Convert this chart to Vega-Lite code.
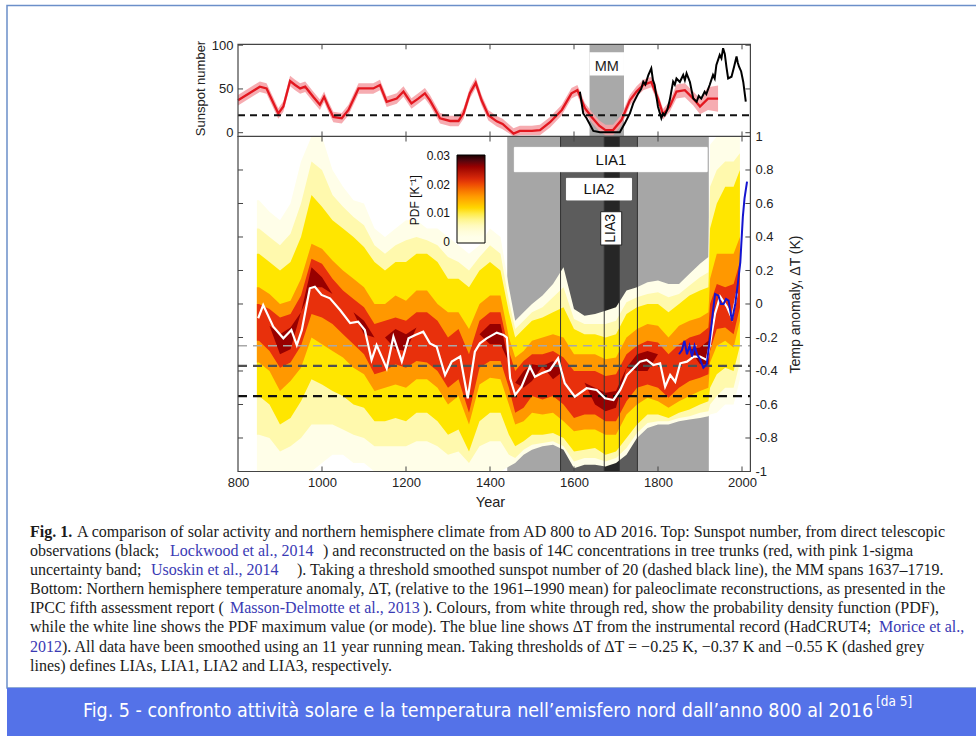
{
"$schema": "https://vega.github.io/schema/vega-lite/v6.json",
"width": 976, "height": 736,
"autosize": {"type": "none"},
"padding": 0,
"background": "#ffffff",
"config": {"view": {"stroke": null}, "axis": {"grid": false}},
"datasets": {
"pdf": [
{"yr":845,"lv":0.003,"v":-1,"v2":0.62},{"yr":845,"lv":0.007,"v":-0.78,"v2":0.45},{"yr":845,"lv":0.011,"v":-0.55,"v2":0.3},{"yr":845,"lv":0.016,"v":-0.35,"v2":0.1},{"yr":845,"lv":0.021,"v":-0.22,"v2":0},{"yr":845,"lv":0.026,"v":-0.1,"v2":-0.1},
{"yr":850,"lv":0.003,"v":-1,"v2":0.62},{"yr":850,"lv":0.007,"v":-0.78,"v2":0.45},{"yr":850,"lv":0.011,"v":-0.55,"v2":0.3},{"yr":850,"lv":0.016,"v":-0.35,"v2":0.1},{"yr":850,"lv":0.021,"v":-0.22,"v2":0},{"yr":850,"lv":0.026,"v":-0.1,"v2":-0.1},
{"yr":875,"lv":0.003,"v":-1,"v2":0.55},{"yr":875,"lv":0.007,"v":-0.8,"v2":0.4},{"yr":875,"lv":0.011,"v":-0.6,"v2":0.25},{"yr":875,"lv":0.016,"v":-0.4,"v2":0.06},{"yr":875,"lv":0.021,"v":-0.28,"v2":-0.03},{"yr":875,"lv":0.026,"v":-0.13,"v2":-0.13},
{"yr":900,"lv":0.003,"v":-1,"v2":0.5},{"yr":900,"lv":0.007,"v":-0.88,"v2":0.35},{"yr":900,"lv":0.011,"v":-0.72,"v2":0.2},{"yr":900,"lv":0.016,"v":-0.52,"v2":0},{"yr":900,"lv":0.021,"v":-0.38,"v2":-0.08},{"yr":900,"lv":0.026,"v":-0.3,"v2":-0.18},
{"yr":925,"lv":0.003,"v":-1,"v2":0.6},{"yr":925,"lv":0.007,"v":-0.85,"v2":0.42},{"yr":925,"lv":0.011,"v":-0.68,"v2":0.25},{"yr":925,"lv":0.016,"v":-0.46,"v2":0.02},{"yr":925,"lv":0.021,"v":-0.35,"v2":-0.06},{"yr":925,"lv":0.026,"v":-0.27,"v2":-0.14},
{"yr":950,"lv":0.003,"v":-1,"v2":0.85},{"yr":950,"lv":0.007,"v":-0.8,"v2":0.6},{"yr":950,"lv":0.011,"v":-0.58,"v2":0.4},{"yr":950,"lv":0.016,"v":-0.38,"v2":0.15},{"yr":950,"lv":0.021,"v":-0.25,"v2":0.05},{"yr":950,"lv":0.026,"v":-0.05,"v2":-0.05},
{"yr":975,"lv":0.003,"v":-1,"v2":1},{"yr":975,"lv":0.007,"v":-0.72,"v2":0.85},{"yr":975,"lv":0.011,"v":-0.45,"v2":0.65},{"yr":975,"lv":0.016,"v":-0.2,"v2":0.36},{"yr":975,"lv":0.021,"v":-0.06,"v2":0.27},{"yr":975,"lv":0.026,"v":0.1,"v2":0.22},
{"yr":1000,"lv":0.003,"v":-0.95,"v2":1},{"yr":1000,"lv":0.007,"v":-0.72,"v2":0.8},{"yr":1000,"lv":0.011,"v":-0.48,"v2":0.58},{"yr":1000,"lv":0.016,"v":-0.24,"v2":0.33},{"yr":1000,"lv":0.021,"v":-0.08,"v2":0.24},{"yr":1000,"lv":0.026,"v":0.1,"v2":0.16},
{"yr":1025,"lv":0.003,"v":-0.9,"v2":0.8},{"yr":1025,"lv":0.007,"v":-0.72,"v2":0.65},{"yr":1025,"lv":0.011,"v":-0.52,"v2":0.5},{"yr":1025,"lv":0.016,"v":-0.28,"v2":0.26},{"yr":1025,"lv":0.021,"v":-0.12,"v2":0.15},{"yr":1025,"lv":0.026,"v":0.06,"v2":0.06},
{"yr":1050,"lv":0.003,"v":-0.9,"v2":0.7},{"yr":1050,"lv":0.007,"v":-0.75,"v2":0.58},{"yr":1050,"lv":0.011,"v":-0.55,"v2":0.45},{"yr":1050,"lv":0.016,"v":-0.32,"v2":0.2},{"yr":1050,"lv":0.021,"v":-0.18,"v2":0.08},{"yr":1050,"lv":0.026,"v":0,"v2":0},
{"yr":1075,"lv":0.003,"v":-0.95,"v2":0.62},{"yr":1075,"lv":0.007,"v":-0.78,"v2":0.52},{"yr":1075,"lv":0.011,"v":-0.6,"v2":0.4},{"yr":1075,"lv":0.016,"v":-0.38,"v2":0.15},{"yr":1075,"lv":0.021,"v":-0.24,"v2":0.03},{"yr":1075,"lv":0.026,"v":-0.05,"v2":-0.05},
{"yr":1100,"lv":0.003,"v":-0.95,"v2":0.6},{"yr":1100,"lv":0.007,"v":-0.8,"v2":0.47},{"yr":1100,"lv":0.011,"v":-0.62,"v2":0.34},{"yr":1100,"lv":0.016,"v":-0.42,"v2":0.1},{"yr":1100,"lv":0.021,"v":-0.3,"v2":-0.02},{"yr":1100,"lv":0.026,"v":-0.18,"v2":-0.1},
{"yr":1125,"lv":0.003,"v":-1,"v2":0.45},{"yr":1125,"lv":0.007,"v":-0.85,"v2":0.35},{"yr":1125,"lv":0.011,"v":-0.7,"v2":0.25},{"yr":1125,"lv":0.016,"v":-0.52,"v2":0},{"yr":1125,"lv":0.021,"v":-0.42,"v2":-0.12},{"yr":1125,"lv":0.026,"v":-0.2,"v2":-0.2},
{"yr":1150,"lv":0.003,"v":-1,"v2":0.4},{"yr":1150,"lv":0.007,"v":-0.85,"v2":0.3},{"yr":1150,"lv":0.011,"v":-0.7,"v2":0.2},{"yr":1150,"lv":0.016,"v":-0.5,"v2":0},{"yr":1150,"lv":0.021,"v":-0.4,"v2":-0.1},{"yr":1150,"lv":0.026,"v":-0.2,"v2":-0.2},
{"yr":1175,"lv":0.003,"v":-1,"v2":0.45},{"yr":1175,"lv":0.007,"v":-0.85,"v2":0.35},{"yr":1175,"lv":0.011,"v":-0.68,"v2":0.25},{"yr":1175,"lv":0.016,"v":-0.48,"v2":0.05},{"yr":1175,"lv":0.021,"v":-0.36,"v2":-0.08},{"yr":1175,"lv":0.026,"v":-0.27,"v2":-0.15},
{"yr":1200,"lv":0.003,"v":-1,"v2":0.5},{"yr":1200,"lv":0.007,"v":-0.85,"v2":0.38},{"yr":1200,"lv":0.011,"v":-0.7,"v2":0.25},{"yr":1200,"lv":0.016,"v":-0.5,"v2":0.02},{"yr":1200,"lv":0.021,"v":-0.38,"v2":-0.1},{"yr":1200,"lv":0.026,"v":-0.28,"v2":-0.18},
{"yr":1225,"lv":0.003,"v":-1,"v2":0.5},{"yr":1225,"lv":0.007,"v":-0.82,"v2":0.4},{"yr":1225,"lv":0.011,"v":-0.65,"v2":0.3},{"yr":1225,"lv":0.016,"v":-0.45,"v2":0.08},{"yr":1225,"lv":0.021,"v":-0.34,"v2":-0.05},{"yr":1225,"lv":0.026,"v":-0.14,"v2":-0.14},
{"yr":1250,"lv":0.003,"v":-1,"v2":0.45},{"yr":1250,"lv":0.007,"v":-0.82,"v2":0.38},{"yr":1250,"lv":0.011,"v":-0.65,"v2":0.3},{"yr":1250,"lv":0.016,"v":-0.45,"v2":0.08},{"yr":1250,"lv":0.021,"v":-0.35,"v2":-0.05},{"yr":1250,"lv":0.026,"v":-0.15,"v2":-0.15},
{"yr":1275,"lv":0.003,"v":-1,"v2":0.45},{"yr":1275,"lv":0.007,"v":-0.85,"v2":0.35},{"yr":1275,"lv":0.011,"v":-0.7,"v2":0.25},{"yr":1275,"lv":0.016,"v":-0.5,"v2":0},{"yr":1275,"lv":0.021,"v":-0.4,"v2":-0.1},{"yr":1275,"lv":0.026,"v":-0.2,"v2":-0.2},
{"yr":1300,"lv":0.003,"v":-1,"v2":0.4},{"yr":1300,"lv":0.007,"v":-0.9,"v2":0.28},{"yr":1300,"lv":0.011,"v":-0.78,"v2":0.15},{"yr":1300,"lv":0.016,"v":-0.6,"v2":-0.05},{"yr":1300,"lv":0.021,"v":-0.5,"v2":-0.2},{"yr":1300,"lv":0.026,"v":-0.3,"v2":-0.3},
{"yr":1325,"lv":0.003,"v":-1,"v2":0.35},{"yr":1325,"lv":0.007,"v":-0.88,"v2":0.25},{"yr":1325,"lv":0.011,"v":-0.75,"v2":0.15},{"yr":1325,"lv":0.016,"v":-0.55,"v2":-0.05},{"yr":1325,"lv":0.021,"v":-0.45,"v2":-0.15},{"yr":1325,"lv":0.026,"v":-0.25,"v2":-0.25},
{"yr":1350,"lv":0.003,"v":-1,"v2":0.3},{"yr":1350,"lv":0.007,"v":-0.95,"v2":0.2},{"yr":1350,"lv":0.011,"v":-0.88,"v2":0.1},{"yr":1350,"lv":0.016,"v":-0.72,"v2":-0.15},{"yr":1350,"lv":0.021,"v":-0.65,"v2":-0.3},{"yr":1350,"lv":0.026,"v":-0.45,"v2":-0.45},
{"yr":1375,"lv":0.003,"v":-1,"v2":0.35},{"yr":1375,"lv":0.007,"v":-0.85,"v2":0.28},{"yr":1375,"lv":0.011,"v":-0.7,"v2":0.2},{"yr":1375,"lv":0.016,"v":-0.48,"v2":0},{"yr":1375,"lv":0.021,"v":-0.38,"v2":-0.1},{"yr":1375,"lv":0.026,"v":-0.18,"v2":-0.18},
{"yr":1400,"lv":0.003,"v":-1,"v2":0.45},{"yr":1400,"lv":0.007,"v":-0.82,"v2":0.35},{"yr":1400,"lv":0.011,"v":-0.65,"v2":0.25},{"yr":1400,"lv":0.016,"v":-0.44,"v2":0.05},{"yr":1400,"lv":0.021,"v":-0.34,"v2":-0.05},{"yr":1400,"lv":0.026,"v":-0.24,"v2":-0.12},
{"yr":1425,"lv":0.003,"v":-1,"v2":0.4},{"yr":1425,"lv":0.007,"v":-0.82,"v2":0.3},{"yr":1425,"lv":0.011,"v":-0.65,"v2":0.2},{"yr":1425,"lv":0.016,"v":-0.45,"v2":0.05},{"yr":1425,"lv":0.021,"v":-0.34,"v2":-0.05},{"yr":1425,"lv":0.026,"v":-0.24,"v2":-0.12},
{"yr":1445,"lv":0.003,"v":-0.97,"v2":0.1},{"yr":1445,"lv":0.007,"v":-0.9,"v2":0.02},{"yr":1445,"lv":0.011,"v":-0.78,"v2":-0.05},{"yr":1445,"lv":0.016,"v":-0.6,"v2":-0.2},{"yr":1445,"lv":0.021,"v":-0.5,"v2":-0.28},{"yr":1445,"lv":0.026,"v":-0.35,"v2":-0.35},
{"yr":1460,"lv":0.003,"v":-0.95,"v2":-0.1},{"yr":1460,"lv":0.007,"v":-0.92,"v2":-0.15},{"yr":1460,"lv":0.011,"v":-0.85,"v2":-0.2},{"yr":1460,"lv":0.016,"v":-0.72,"v2":-0.32},{"yr":1460,"lv":0.021,"v":-0.65,"v2":-0.4},{"yr":1460,"lv":0.026,"v":-0.47,"v2":-0.47},
{"yr":1480,"lv":0.003,"v":-0.9,"v2":-0.05},{"yr":1480,"lv":0.007,"v":-0.87,"v2":-0.1},{"yr":1480,"lv":0.011,"v":-0.82,"v2":-0.15},{"yr":1480,"lv":0.016,"v":-0.7,"v2":-0.28},{"yr":1480,"lv":0.021,"v":-0.62,"v2":-0.34},{"yr":1480,"lv":0.026,"v":-0.5,"v2":-0.4},
{"yr":1500,"lv":0.003,"v":-0.87,"v2":0},{"yr":1500,"lv":0.007,"v":-0.84,"v2":-0.05},{"yr":1500,"lv":0.011,"v":-0.78,"v2":-0.1},{"yr":1500,"lv":0.016,"v":-0.65,"v2":-0.22},{"yr":1500,"lv":0.021,"v":-0.55,"v2":-0.3},{"yr":1500,"lv":0.026,"v":-0.46,"v2":-0.36},
{"yr":1525,"lv":0.003,"v":-0.85,"v2":0.05},{"yr":1525,"lv":0.007,"v":-0.83,"v2":-0.02},{"yr":1525,"lv":0.011,"v":-0.78,"v2":-0.08},{"yr":1525,"lv":0.016,"v":-0.66,"v2":-0.2},{"yr":1525,"lv":0.021,"v":-0.57,"v2":-0.3},{"yr":1525,"lv":0.026,"v":-0.37,"v2":-0.37},
{"yr":1550,"lv":0.003,"v":-0.84,"v2":0.12},{"yr":1550,"lv":0.007,"v":-0.82,"v2":0.04},{"yr":1550,"lv":0.011,"v":-0.77,"v2":-0.05},{"yr":1550,"lv":0.016,"v":-0.65,"v2":-0.18},{"yr":1550,"lv":0.021,"v":-0.55,"v2":-0.28},{"yr":1550,"lv":0.026,"v":-0.45,"v2":-0.34},
{"yr":1575,"lv":0.003,"v":-0.87,"v2":0.22},{"yr":1575,"lv":0.007,"v":-0.85,"v2":0.1},{"yr":1575,"lv":0.011,"v":-0.8,"v2":-0.02},{"yr":1575,"lv":0.016,"v":-0.7,"v2":-0.2},{"yr":1575,"lv":0.021,"v":-0.6,"v2":-0.32},{"yr":1575,"lv":0.026,"v":-0.4,"v2":-0.4},
{"yr":1600,"lv":0.003,"v":-0.98,"v2":-0.03},{"yr":1600,"lv":0.007,"v":-0.94,"v2":-0.09},{"yr":1600,"lv":0.011,"v":-0.88,"v2":-0.15},{"yr":1600,"lv":0.016,"v":-0.76,"v2":-0.3},{"yr":1600,"lv":0.021,"v":-0.68,"v2":-0.4},{"yr":1600,"lv":0.026,"v":-0.48,"v2":-0.48},
{"yr":1625,"lv":0.003,"v":-0.96,"v2":-0.07},{"yr":1625,"lv":0.007,"v":-0.92,"v2":-0.12},{"yr":1625,"lv":0.011,"v":-0.87,"v2":-0.18},{"yr":1625,"lv":0.016,"v":-0.75,"v2":-0.3},{"yr":1625,"lv":0.021,"v":-0.66,"v2":-0.4},{"yr":1625,"lv":0.026,"v":-0.47,"v2":-0.47},
{"yr":1650,"lv":0.003,"v":-0.96,"v2":-0.06},{"yr":1650,"lv":0.007,"v":-0.92,"v2":-0.12},{"yr":1650,"lv":0.011,"v":-0.86,"v2":-0.18},{"yr":1650,"lv":0.016,"v":-0.75,"v2":-0.3},{"yr":1650,"lv":0.021,"v":-0.66,"v2":-0.4},{"yr":1650,"lv":0.026,"v":-0.6,"v2":-0.5},
{"yr":1675,"lv":0.003,"v":-0.97,"v2":-0.04},{"yr":1675,"lv":0.007,"v":-0.94,"v2":-0.12},{"yr":1675,"lv":0.011,"v":-0.9,"v2":-0.2},{"yr":1675,"lv":0.016,"v":-0.78,"v2":-0.33},{"yr":1675,"lv":0.021,"v":-0.7,"v2":-0.43},{"yr":1675,"lv":0.026,"v":-0.64,"v2":-0.53},
{"yr":1700,"lv":0.003,"v":-0.95,"v2":-0.02},{"yr":1700,"lv":0.007,"v":-0.92,"v2":-0.1},{"yr":1700,"lv":0.011,"v":-0.88,"v2":-0.18},{"yr":1700,"lv":0.016,"v":-0.78,"v2":-0.32},{"yr":1700,"lv":0.021,"v":-0.7,"v2":-0.42},{"yr":1700,"lv":0.026,"v":-0.62,"v2":-0.52},
{"yr":1725,"lv":0.003,"v":-0.9,"v2":0.08},{"yr":1725,"lv":0.007,"v":-0.86,"v2":0.01},{"yr":1725,"lv":0.011,"v":-0.8,"v2":-0.06},{"yr":1725,"lv":0.016,"v":-0.66,"v2":-0.2},{"yr":1725,"lv":0.021,"v":-0.58,"v2":-0.3},{"yr":1725,"lv":0.026,"v":-0.38,"v2":-0.38},
{"yr":1750,"lv":0.003,"v":-0.8,"v2":0.1},{"yr":1750,"lv":0.007,"v":-0.77,"v2":0.04},{"yr":1750,"lv":0.011,"v":-0.72,"v2":-0.02},{"yr":1750,"lv":0.016,"v":-0.6,"v2":-0.15},{"yr":1750,"lv":0.021,"v":-0.5,"v2":-0.25},{"yr":1750,"lv":0.026,"v":-0.4,"v2":-0.3},
{"yr":1775,"lv":0.003,"v":-0.74,"v2":0.13},{"yr":1775,"lv":0.007,"v":-0.71,"v2":0.06},{"yr":1775,"lv":0.011,"v":-0.66,"v2":0},{"yr":1775,"lv":0.016,"v":-0.56,"v2":-0.12},{"yr":1775,"lv":0.021,"v":-0.48,"v2":-0.22},{"yr":1775,"lv":0.026,"v":-0.4,"v2":-0.28},
{"yr":1800,"lv":0.003,"v":-0.72,"v2":0.14},{"yr":1800,"lv":0.007,"v":-0.7,"v2":0.07},{"yr":1800,"lv":0.011,"v":-0.66,"v2":0},{"yr":1800,"lv":0.016,"v":-0.58,"v2":-0.13},{"yr":1800,"lv":0.021,"v":-0.5,"v2":-0.23},{"yr":1800,"lv":0.026,"v":-0.3,"v2":-0.3},
{"yr":1825,"lv":0.003,"v":-0.72,"v2":0.12},{"yr":1825,"lv":0.007,"v":-0.7,"v2":0.04},{"yr":1825,"lv":0.011,"v":-0.68,"v2":-0.05},{"yr":1825,"lv":0.016,"v":-0.62,"v2":-0.2},{"yr":1825,"lv":0.021,"v":-0.56,"v2":-0.3},{"yr":1825,"lv":0.026,"v":-0.38,"v2":-0.38},
{"yr":1850,"lv":0.003,"v":-0.7,"v2":0.12},{"yr":1850,"lv":0.007,"v":-0.68,"v2":0.06},{"yr":1850,"lv":0.011,"v":-0.65,"v2":0},{"yr":1850,"lv":0.016,"v":-0.58,"v2":-0.13},{"yr":1850,"lv":0.021,"v":-0.5,"v2":-0.24},{"yr":1850,"lv":0.026,"v":-0.3,"v2":-0.3},
{"yr":1875,"lv":0.003,"v":-0.69,"v2":0.18},{"yr":1875,"lv":0.007,"v":-0.67,"v2":0.11},{"yr":1875,"lv":0.011,"v":-0.63,"v2":0.05},{"yr":1875,"lv":0.016,"v":-0.55,"v2":-0.1},{"yr":1875,"lv":0.021,"v":-0.46,"v2":-0.2},{"yr":1875,"lv":0.026,"v":-0.27,"v2":-0.27},
{"yr":1900,"lv":0.003,"v":-0.68,"v2":0.24},{"yr":1900,"lv":0.007,"v":-0.65,"v2":0.16},{"yr":1900,"lv":0.011,"v":-0.6,"v2":0.08},{"yr":1900,"lv":0.016,"v":-0.52,"v2":-0.08},{"yr":1900,"lv":0.021,"v":-0.44,"v2":-0.18},{"yr":1900,"lv":0.026,"v":-0.36,"v2":-0.26},
{"yr":1920,"lv":0.003,"v":-0.67,"v2":0.28},{"yr":1920,"lv":0.007,"v":-0.64,"v2":0.19},{"yr":1920,"lv":0.011,"v":-0.58,"v2":0.1},{"yr":1920,"lv":0.016,"v":-0.5,"v2":-0.05},{"yr":1920,"lv":0.021,"v":-0.42,"v2":-0.14},{"yr":1920,"lv":0.026,"v":-0.36,"v2":-0.22},
{"yr":1924,"lv":0.003,"v":-0.66,"v2":0.95},{"yr":1924,"lv":0.007,"v":-0.6,"v2":0.7},{"yr":1924,"lv":0.011,"v":-0.5,"v2":0.45},{"yr":1924,"lv":0.016,"v":-0.35,"v2":0.15},{"yr":1924,"lv":0.021,"v":-0.28,"v2":0},{"yr":1924,"lv":0.026,"v":-0.1,"v2":-0.1},
{"yr":1940,"lv":0.003,"v":-0.65,"v2":1},{"yr":1940,"lv":0.007,"v":-0.55,"v2":0.8},{"yr":1940,"lv":0.011,"v":-0.42,"v2":0.6},{"yr":1940,"lv":0.016,"v":-0.25,"v2":0.3},{"yr":1940,"lv":0.021,"v":-0.15,"v2":0.12},{"yr":1940,"lv":0.026,"v":0.05,"v2":0.05},
{"yr":1960,"lv":0.003,"v":-0.6,"v2":1},{"yr":1960,"lv":0.007,"v":-0.5,"v2":0.85},{"yr":1960,"lv":0.011,"v":-0.38,"v2":0.7},{"yr":1960,"lv":0.016,"v":-0.22,"v2":0.3},{"yr":1960,"lv":0.021,"v":-0.14,"v2":0.1},{"yr":1960,"lv":0.026,"v":0.04,"v2":0.04},
{"yr":1980,"lv":0.003,"v":-0.6,"v2":1},{"yr":1980,"lv":0.007,"v":-0.5,"v2":0.85},{"yr":1980,"lv":0.011,"v":-0.4,"v2":0.7},{"yr":1980,"lv":0.016,"v":-0.26,"v2":0.3},{"yr":1980,"lv":0.021,"v":-0.18,"v2":0.12},{"yr":1980,"lv":0.026,"v":0.04,"v2":0.04},
{"yr":1995,"lv":0.003,"v":-0.45,"v2":1},{"yr":1995,"lv":0.007,"v":-0.35,"v2":0.9},{"yr":1995,"lv":0.011,"v":-0.25,"v2":0.8},{"yr":1995,"lv":0.016,"v":-0.1,"v2":0.4},{"yr":1995,"lv":0.021,"v":-0.02,"v2":0.25},{"yr":1995,"lv":0.026,"v":0.15,"v2":0.15}
]
},
"layer": [
{
"encoding": {
"x": {"field": "yr", "type": "quantitative", "scale": {"domain": [233.33, 2557.14], "nice": false, "zero": false}, "axis": null},
"y": {"field": "v", "type": "quantitative", "stack": null, "scale": {"domain": [-689.5, 151.66], "nice": false, "zero": false},
"axis": {"orient": "left", "offset": -238, "values": [0, 50, 100], "domain": false, "ticks": false, "grid": false, "labelPadding": 5, "labelFont": "Liberation Sans", "labelFontSize": 13, "labelColor": "#222222", "title": "Sunspot number", "titleFont": "Liberation Sans", "titleFontSize": 13, "titleFontWeight": "normal", "titleColor": "#222222", "titleAngle": 270, "titleX": -38, "titleY": 88, "titleAlign": "center", "titleBaseline": "middle"}}
},
"layer": [
{"data": {"values": [{"yr": 1637, "yr2": 1719, "v": -4.3, "v2": 101, "c": "#a9a9a9"}, {"yr": 1637, "yr2": 1719, "v": 65.3, "v2": 91.9, "c": "#ffffff"}]},
"mark": {"type": "rect"},
"encoding": {"x2": {"field": "yr2"}, "y2": {"field": "v2"}, "color": {"field": "c", "type": "nominal", "scale": null}}},
{"data": {"values": [
{"yr":800,"v":31,"v2":43},{"yr":852,"v":46.6,"v2":58.6},{"yr":868,"v":44.6,"v2":56.6},{"yr":896,"v":16,"v2":28},{"yr":908,"v":24,"v2":36},{"yr":924,"v":53,"v2":65},{"yr":936,"v":48.5,"v2":60.5},{"yr":948,"v":44.6,"v2":56.6},{"yr":960,"v":46.6,"v2":58.6},{"yr":979,"v":35,"v2":47},{"yr":995,"v":26,"v2":38},{"yr":1005,"v":35,"v2":47},{"yr":1015,"v":24,"v2":36},{"yr":1027,"v":12,"v2":24},{"yr":1047,"v":10.5,"v2":22.5},{"yr":1063,"v":20,"v2":32},{"yr":1087,"v":44.6,"v2":56.6},{"yr":1122,"v":44.6,"v2":56.6},{"yr":1138,"v":48.5,"v2":60.5},{"yr":1154,"v":29.4,"v2":41.4},{"yr":1178,"v":33,"v2":45},{"yr":1194,"v":41,"v2":53},{"yr":1213,"v":27.5,"v2":39.5},{"yr":1229,"v":33,"v2":45},{"yr":1245,"v":39,"v2":51},{"yr":1257,"v":31,"v2":43},{"yr":1281,"v":10.5,"v2":22.5},{"yr":1305,"v":7.4,"v2":19.4},{"yr":1325,"v":7.4,"v2":19.4},{"yr":1337,"v":16,"v2":28},{"yr":1352,"v":39,"v2":51},{"yr":1366,"v":51,"v2":63},{"yr":1380,"v":31,"v2":43},{"yr":1396,"v":14,"v2":26},{"yr":1416,"v":7,"v2":19},{"yr":1430,"v":4,"v2":16},{"yr":1456,"v":-4,"v2":5},{"yr":1471,"v":-3,"v2":8},{"yr":1500,"v":-3,"v2":8},{"yr":1519,"v":-3,"v2":9},{"yr":1543,"v":6,"v2":18},{"yr":1571,"v":20,"v2":32},{"yr":1594,"v":39,"v2":51},{"yr":1608,"v":42.6,"v2":54.6},{"yr":1626,"v":22,"v2":34},{"yr":1642,"v":12,"v2":24},{"yr":1660,"v":2,"v2":14},{"yr":1675,"v":-3,"v2":9},{"yr":1693,"v":-3,"v2":9},{"yr":1713,"v":8.4,"v2":20.4},{"yr":1733,"v":31,"v2":43},{"yr":1749,"v":41,"v2":53},{"yr":1765,"v":48.5,"v2":60.5},{"yr":1784,"v":52,"v2":64},{"yr":1800,"v":33,"v2":45},{"yr":1812,"v":15,"v2":27},{"yr":1828,"v":24,"v2":36},{"yr":1844,"v":39,"v2":55},{"yr":1864,"v":40.6,"v2":56.6},{"yr":1884,"v":31,"v2":47},{"yr":1900,"v":21,"v2":39},{"yr":1919,"v":26,"v2":52},{"yr":1943,"v":24,"v2":54}
]},
"mark": {"type": "area", "color": "#f5a3a8", "opacity": 0.9},
"encoding": {"y2": {"field": "v2"}}},
{"data": {"values": [
{"yr":800,"v":37},{"yr":852,"v":52.6},{"yr":868,"v":50.6},{"yr":896,"v":22},{"yr":908,"v":30},{"yr":924,"v":59},{"yr":936,"v":54.5},{"yr":948,"v":50.6},{"yr":960,"v":52.6},{"yr":979,"v":41},{"yr":995,"v":32},{"yr":1005,"v":41},{"yr":1015,"v":30},{"yr":1027,"v":18},{"yr":1047,"v":16.5},{"yr":1063,"v":26},{"yr":1087,"v":50.6},{"yr":1122,"v":50.6},{"yr":1138,"v":54.5},{"yr":1154,"v":35.4},{"yr":1178,"v":39},{"yr":1194,"v":47},{"yr":1213,"v":33.5},{"yr":1229,"v":39},{"yr":1245,"v":45},{"yr":1257,"v":37},{"yr":1281,"v":16.5},{"yr":1305,"v":13.4},{"yr":1325,"v":13.4},{"yr":1337,"v":22},{"yr":1352,"v":45},{"yr":1366,"v":57},{"yr":1380,"v":37},{"yr":1396,"v":20},{"yr":1416,"v":13},{"yr":1430,"v":10},{"yr":1456,"v":-1},{"yr":1471,"v":2},{"yr":1500,"v":2},{"yr":1519,"v":3},{"yr":1543,"v":12},{"yr":1571,"v":26},{"yr":1594,"v":45},{"yr":1608,"v":48.6},{"yr":1626,"v":28},{"yr":1642,"v":18},{"yr":1660,"v":8},{"yr":1675,"v":3},{"yr":1693,"v":3},{"yr":1713,"v":14.4},{"yr":1733,"v":37},{"yr":1749,"v":47},{"yr":1765,"v":54.5},{"yr":1784,"v":58},{"yr":1800,"v":39},{"yr":1812,"v":21},{"yr":1828,"v":30},{"yr":1844,"v":47},{"yr":1864,"v":48.6},{"yr":1884,"v":39},{"yr":1900,"v":30},{"yr":1919,"v":39},{"yr":1943,"v":39}
]},
"mark": {"type": "line", "color": "#e3171f", "strokeWidth": 2.3}},
{"data": {"values": [{"yr": 800, "yr2": 2020, "v": 20}]},
"mark": {"type": "rule", "color": "#111111", "strokeWidth": 2, "strokeDash": [7, 5]},
"encoding": {"x2": {"field": "yr2"}}},
{"data": {"values": [
{"yr":1614,"v":46.8},{"yr":1622,"v":22},{"yr":1630,"v":16.5},{"yr":1646,"v":2},{"yr":1662,"v":0.5},{"yr":1709,"v":0.5},{"yr":1721,"v":10.7},{"yr":1733,"v":22},{"yr":1741,"v":33.5},{"yr":1753,"v":44.9},{"yr":1760,"v":50},{"yr":1765,"v":58.3},{"yr":1770,"v":55},{"yr":1777,"v":65.9},{"yr":1784,"v":73.5},{"yr":1788,"v":60},{"yr":1792,"v":54.5},{"yr":1800,"v":29.7},{"yr":1808,"v":16.5},{"yr":1812,"v":22},{"yr":1816,"v":20},{"yr":1822,"v":26},{"yr":1828,"v":37.3},{"yr":1836,"v":58.3},{"yr":1840,"v":55},{"yr":1844,"v":62},{"yr":1852,"v":58},{"yr":1856,"v":62},{"yr":1860,"v":66},{"yr":1864,"v":60},{"yr":1868,"v":67.8},{"yr":1876,"v":58},{"yr":1884,"v":39},{"yr":1892,"v":35.4},{"yr":1897,"v":42},{"yr":1903,"v":39},{"yr":1911,"v":46.8},{"yr":1915,"v":44},{"yr":1923,"v":54.5},{"yr":1931,"v":66},{"yr":1935,"v":62},{"yr":1939,"v":77.4},{"yr":1947,"v":89},{"yr":1951,"v":85},{"yr":1955,"v":96.6},{"yr":1959,"v":90},{"yr":1963,"v":75},{"yr":1967,"v":62},{"yr":1975,"v":64},{"yr":1981,"v":75},{"yr":1987,"v":87},{"yr":1990,"v":80},{"yr":1993,"v":75.4},{"yr":1998,"v":70},{"yr":2003,"v":58},{"yr":2009,"v":35.4}
]},
"mark": {"type": "line", "color": "#000000", "strokeWidth": 2}},
{"data": {"values": [{"yr": 1678, "v": 75.5, "t": "MM"}]},
"mark": {"type": "text", "font": "Liberation Sans", "fontSize": 14.5, "color": "#222222", "align": "center", "baseline": "middle"},
"encoding": {"text": {"field": "t"}}},
{"data": {"values": [{"yr": 800, "yr2": 2020, "v": -4.3, "v2": 101}]},
"mark": {"type": "rect", "fill": "#ffffff", "fillOpacity": 0, "stroke": "#444444", "strokeWidth": 1.2},
"encoding": {"x2": {"field": "yr2"}, "y2": {"field": "v2"}}},
{"data": {"values": [
{"yr":1000,"yr2":1000,"v":-4.3,"v2":1.4},{"yr":1200,"yr2":1200,"v":-4.3,"v2":1.4},{"yr":1400,"yr2":1400,"v":-4.3,"v2":1.4},{"yr":1600,"yr2":1600,"v":-4.3,"v2":1.4},{"yr":1800,"yr2":1800,"v":-4.3,"v2":1.4},{"yr":2000,"yr2":2000,"v":-4.3,"v2":1.4},
{"yr":1000,"yr2":1000,"v":101,"v2":95.3},{"yr":1200,"yr2":1200,"v":101,"v2":95.3},{"yr":1400,"yr2":1400,"v":101,"v2":95.3},{"yr":1600,"yr2":1600,"v":101,"v2":95.3},{"yr":1800,"yr2":1800,"v":101,"v2":95.3},{"yr":2000,"yr2":2000,"v":101,"v2":95.3},
{"yr":800,"yr2":812,"v":0,"v2":0},{"yr":800,"yr2":812,"v":50,"v2":50},{"yr":800,"yr2":812,"v":100,"v2":100},
{"yr":2008,"yr2":2020,"v":0,"v2":0},{"yr":2008,"yr2":2020,"v":50,"v2":50},{"yr":2008,"yr2":2020,"v":100,"v2":100}
]},
"mark": {"type": "rule", "color": "#444444", "strokeWidth": 1},
"encoding": {"x2": {"field": "yr2"}, "y2": {"field": "v2"}}}
]
},
{
"encoding": {
"x": {"field": "yr", "type": "quantitative", "scale": {"domain": [233.33, 2557.14], "nice": false, "zero": false},
"axis": {"orient": "bottom", "offset": -264.5, "values": [800, 1000, 1200, 1400, 1600, 1800, 2000], "format": "d", "domain": false, "ticks": false, "grid": false, "labelPadding": 5, "labelFlush": false, "labelOverlap": false, "labelFont": "Liberation Sans", "labelFontSize": 13, "labelColor": "#222222", "title": "Year", "titleFont": "Liberation Sans", "titleFontSize": 14.5, "titleFontWeight": "normal", "titleColor": "#222222", "titleX": 490, "titleY": 30.5, "titleAlign": "center", "titleBaseline": "middle", "titleAngle": 0}},
"y": {"field": "v", "type": "quantitative", "stack": null, "scale": {"domain": [-2.5791, 1.8149], "nice": false, "zero": false},
"axis": {"orient": "right", "offset": -225.6, "values": [-1, -0.8, -0.6, -0.4, -0.2, 0, 0.2, 0.4, 0.6, 0.8, 1], "format": "~g", "labelExpr": "replace(datum.label, '−', '-')", "domain": false, "ticks": false, "grid": false, "labelPadding": 4.5, "labelFlush": false, "labelOverlap": false, "labelFont": "Liberation Sans", "labelFontSize": 13, "labelColor": "#222222", "title": "Temp anomaly,  ΔT (K)", "titleFont": "Liberation Sans", "titleFontSize": 14, "titleFontWeight": "normal", "titleColor": "#222222", "titleAngle": 270, "titleX": 44.6, "titleY": 304, "titleAlign": "center", "titleBaseline": "middle"}}
},
"layer": [
{"data": {"values": [{"yr": 1441, "yr2": 1921, "v": -1, "v2": 1, "c": "#a6a6a6"}, {"yr": 1568, "yr2": 1751, "v": -1, "v2": 1, "c": "#5c5c5c"}, {"yr": 1672, "yr2": 1708, "v": -1, "v2": 1, "c": "#262626"}]},
"mark": {"type": "rect"},
"encoding": {"x2": {"field": "yr2"}, "y2": {"field": "v2"}, "color": {"field": "c", "type": "nominal", "scale": null}}},
{"data": {"name": "pdf"}, "transform": [{"filter": "datum.lv == 0.003"}],
"mark": {"type": "area", "interpolate": "linear"},
"encoding": {"y2": {"field": "v2"}, "color": {"field": "lv", "type": "quantitative",
"scale": {"domain": [0, 0.003, 0.007, 0.011, 0.016, 0.021, 0.026, 0.03], "range": ["#ffffff", "#fffee8", "#fff9ad", "#ffe600", "#ff9800", "#e8300c", "#980000", "#1a0000"]},
"legend": {"orient": "none", "legendX": 457, "legendY": 155, "direction": "vertical", "gradientLength": 88, "gradientThickness": 28, "title": null, "labelOpacity": 0, "labelFontSize": 1, "gradientStrokeColor": "#000000", "gradientStrokeWidth": 1, "padding": 0}}}},
{"data": {"name": "pdf"}, "transform": [{"filter": "datum.lv == 0.007"}],
"mark": {"type": "area", "interpolate": "linear"},
"encoding": {"y2": {"field": "v2"}, "color": {"field": "lv", "type": "quantitative", "scale": {"domain": [0, 0.003, 0.007, 0.011, 0.016, 0.021, 0.026, 0.03], "range": ["#ffffff", "#fffee8", "#fff9ad", "#ffe600", "#ff9800", "#e8300c", "#980000", "#1a0000"]}}}},
{"data": {"name": "pdf"}, "transform": [{"filter": "datum.lv == 0.011"}],
"mark": {"type": "area", "interpolate": "linear"},
"encoding": {"y2": {"field": "v2"}, "color": {"field": "lv", "type": "quantitative", "scale": {"domain": [0, 0.003, 0.007, 0.011, 0.016, 0.021, 0.026, 0.03], "range": ["#ffffff", "#fffee8", "#fff9ad", "#ffe600", "#ff9800", "#e8300c", "#980000", "#1a0000"]}}}},
{"data": {"name": "pdf"}, "transform": [{"filter": "datum.lv == 0.016"}],
"mark": {"type": "area", "interpolate": "linear"},
"encoding": {"y2": {"field": "v2"}, "color": {"field": "lv", "type": "quantitative", "scale": {"domain": [0, 0.003, 0.007, 0.011, 0.016, 0.021, 0.026, 0.03], "range": ["#ffffff", "#fffee8", "#fff9ad", "#ffe600", "#ff9800", "#e8300c", "#980000", "#1a0000"]}}}},
{"data": {"name": "pdf"}, "transform": [{"filter": "datum.lv == 0.021"}],
"mark": {"type": "area", "interpolate": "linear"},
"encoding": {"y2": {"field": "v2"}, "color": {"field": "lv", "type": "quantitative", "scale": {"domain": [0, 0.003, 0.007, 0.011, 0.016, 0.021, 0.026, 0.03], "range": ["#ffffff", "#fffee8", "#fff9ad", "#ffe600", "#ff9800", "#e8300c", "#980000", "#1a0000"]}}}},
{"data": {"name": "pdf"}, "transform": [{"filter": "datum.lv == 0.026"}],
"mark": {"type": "area", "interpolate": "linear"},
"encoding": {"y2": {"field": "v2"}, "color": {"field": "lv", "type": "quantitative", "scale": {"domain": [0, 0.003, 0.007, 0.011, 0.016, 0.021, 0.026, 0.03], "range": ["#ffffff", "#fffee8", "#fff9ad", "#ffe600", "#ff9800", "#e8300c", "#980000", "#1a0000"]}}}},
{"data": {"values": [{"yr": 1568, "v": -1, "v2": 1}, {"yr": 1672, "v": -1, "v2": 1}, {"yr": 1708, "v": -1, "v2": 1}, {"yr": 1751, "v": -1, "v2": 1}]},
"mark": {"type": "rule", "color": "#333333", "strokeWidth": 1},
"encoding": {"y2": {"field": "v2"}}},
{"data": {"values": [{"yr": 800, "yr2": 2020, "v": -0.25, "c": "#a8a8a8", "sw": 1.5}, {"yr": 800, "yr2": 2020, "v": -0.37, "c": "#505050", "sw": 2.2}, {"yr": 800, "yr2": 2020, "v": -0.55, "c": "#111111", "sw": 2.2}]},
"mark": {"type": "rule", "strokeDash": [9, 6]},
"encoding": {"x2": {"field": "yr2"}, "color": {"field": "c", "type": "nominal", "scale": null}, "strokeWidth": {"field": "sw", "type": "quantitative", "scale": null}}},
{"data": {"values": [
{"yr":848,"v":-0.085},{"yr":860,"v":-0.006},{"yr":884,"v":-0.135},{"yr":908,"v":-0.205},{"yr":927,"v":-0.155},{"yr":940,"v":-0.245},{"yr":952,"v":-0.155},{"yr":971,"v":0.094},{"yr":983,"v":0.103},{"yr":999,"v":0.054},{"yr":1019,"v":0.034},{"yr":1043,"v":-0.036},{"yr":1067,"v":-0.114},{"yr":1086,"v":-0.105},{"yr":1102,"v":-0.155},{"yr":1118,"v":-0.334},{"yr":1130,"v":-0.245},{"yr":1142,"v":-0.314},{"yr":1154,"v":-0.384},{"yr":1170,"v":-0.195},{"yr":1190,"v":-0.344},{"yr":1206,"v":-0.205},{"yr":1222,"v":-0.185},{"yr":1241,"v":-0.165},{"yr":1257,"v":-0.235},{"yr":1273,"v":-0.255},{"yr":1293,"v":-0.424},{"yr":1309,"v":-0.344},{"yr":1329,"v":-0.314},{"yr":1347,"v":-0.563},{"yr":1364,"v":-0.285},{"yr":1376,"v":-0.235},{"yr":1392,"v":-0.205},{"yr":1416,"v":-0.171},{"yr":1432,"v":-0.185},{"yr":1440,"v":-0.2},{"yr":1448,"v":-0.444},{"yr":1460,"v":-0.543},{"yr":1475,"v":-0.494},{"yr":1495,"v":-0.374},{"yr":1507,"v":-0.434},{"yr":1523,"v":-0.414},{"yr":1543,"v":-0.394},{"yr":1562,"v":-0.324},{"yr":1578,"v":-0.473},{"yr":1602,"v":-0.553},{"yr":1630,"v":-0.503},{"yr":1654,"v":-0.513},{"yr":1674,"v":-0.563},{"yr":1694,"v":-0.573},{"yr":1710,"v":-0.513},{"yr":1726,"v":-0.424},{"yr":1742,"v":-0.384},{"yr":1757,"v":-0.344},{"yr":1773,"v":-0.334},{"yr":1789,"v":-0.364},{"yr":1805,"v":-0.354},{"yr":1817,"v":-0.494},{"yr":1829,"v":-0.424},{"yr":1841,"v":-0.464},{"yr":1853,"v":-0.354},{"yr":1869,"v":-0.344},{"yr":1885,"v":-0.314},{"yr":1900,"v":-0.314},{"yr":1916,"v":-0.334},{"yr":1924,"v":-0.235},{"yr":1936,"v":-0.056},{"yr":1948,"v":0.044},{"yr":1964,"v":-0.016},{"yr":1976,"v":-0.085},{"yr":1988,"v":0.064}
]},
"mark": {"type": "line", "color": "#ffffff", "strokeWidth": 2.2}},
{"data": {"values": [
{"yr":1850,"v":-0.3},{"yr":1857,"v":-0.275},{"yr":1863,"v":-0.22},{"yr":1869,"v":-0.3},{"yr":1875,"v":-0.25},{"yr":1881,"v":-0.314},{"yr":1887,"v":-0.25},{"yr":1893,"v":-0.3},{"yr":1900,"v":-0.33},{"yr":1908,"v":-0.38},{"yr":1916,"v":-0.36},{"yr":1924,"v":-0.2},{"yr":1932,"v":-0.02},{"yr":1936,"v":0.06},{"yr":1944,"v":0.05},{"yr":1950,"v":0.0},{"yr":1956,"v":0.0},{"yr":1962,"v":0.03},{"yr":1968,"v":0.02},{"yr":1976,"v":-0.1},{"yr":1984,"v":0.0},{"yr":1990,"v":0.12},{"yr":1996,"v":0.25},{"yr":2002,"v":0.52},{"yr":2006,"v":0.63},{"yr":2012,"v":0.73}
]},
"mark": {"type": "line", "color": "#1515d0", "strokeWidth": 2}},
{"data": {"values": [{"yr": 1458, "yr2": 1917, "v": 0.79, "v2": 0.935, "s": "#ffffff"}, {"yr": 1582, "yr2": 1737, "v": 0.621, "v2": 0.75, "s": "#ffffff"}, {"yr": 1663.6, "yr2": 1713.6, "v": 0.352, "v2": 0.551, "s": "#222222"}]},
"mark": {"type": "rect", "fill": "#ffffff", "strokeWidth": 1},
"encoding": {"x2": {"field": "yr2"}, "y2": {"field": "v2"}, "stroke": {"field": "s", "type": "nominal", "scale": null}}},
{"data": {"values": [{"yr": 1688, "v": 0.862, "t": "LIA1"}, {"yr": 1659.5, "v": 0.686, "t": "LIA2"}]},
"mark": {"type": "text", "font": "Liberation Sans", "fontSize": 15, "color": "#111111", "align": "center", "baseline": "middle"},
"encoding": {"text": {"field": "t"}}},
{"data": {"values": [{"yr": 1688.6, "v": 0.452, "t": "LIA3"}]},
"mark": {"type": "text", "font": "Liberation Sans", "fontSize": 14, "color": "#111111", "align": "center", "baseline": "middle", "angle": 270},
"encoding": {"text": {"field": "t"}}},
{"data": {"values": [{"yr": 1221, "v": 0.62, "t": "PDF [K⁻¹]"}]},
"mark": {"type": "text", "font": "Liberation Sans", "fontSize": 12, "color": "#111111", "align": "center", "baseline": "middle", "angle": 270},
"encoding": {"text": {"field": "t"}}},
{"data": {"values": [{"yr": 1304.8, "v": 0.884, "t": "0.03"}, {"yr": 1304.8, "v": 0.712, "t": "0.02"}, {"yr": 1304.8, "v": 0.541, "t": "0.01"}, {"yr": 1304.8, "v": 0.37, "t": "0"}]},
"mark": {"type": "text", "font": "Liberation Sans", "fontSize": 12, "color": "#111111", "align": "right", "baseline": "middle"},
"encoding": {"text": {"field": "t"}}},
{"data": {"values": [{"yr": 800, "yr2": 2020, "v": -1, "v2": 1}]},
"mark": {"type": "rect", "fill": "#ffffff", "fillOpacity": 0, "stroke": "#444444", "strokeWidth": 1.2},
"encoding": {"x2": {"field": "yr2"}, "y2": {"field": "v2"}}},
{"data": {"values": [
{"yr":1000,"yr2":1000,"v":-1,"v2":-0.97},{"yr":1200,"yr2":1200,"v":-1,"v2":-0.97},{"yr":1400,"yr2":1400,"v":-1,"v2":-0.97},{"yr":1600,"yr2":1600,"v":-1,"v2":-0.97},{"yr":1800,"yr2":1800,"v":-1,"v2":-0.97},{"yr":2000,"yr2":2000,"v":-1,"v2":-0.97},
{"yr":1000,"yr2":1000,"v":1,"v2":0.97},{"yr":1200,"yr2":1200,"v":1,"v2":0.97},{"yr":1400,"yr2":1400,"v":1,"v2":0.97},{"yr":1600,"yr2":1600,"v":1,"v2":0.97},{"yr":1800,"yr2":1800,"v":1,"v2":0.97},{"yr":2000,"yr2":2000,"v":1,"v2":0.97},
{"yr":800,"yr2":812,"v":-0.8,"v2":-0.8},{"yr":800,"yr2":812,"v":-0.6,"v2":-0.6},{"yr":800,"yr2":812,"v":-0.4,"v2":-0.4},{"yr":800,"yr2":812,"v":-0.2,"v2":-0.2},{"yr":800,"yr2":812,"v":0,"v2":0},{"yr":800,"yr2":812,"v":0.2,"v2":0.2},{"yr":800,"yr2":812,"v":0.4,"v2":0.4},{"yr":800,"yr2":812,"v":0.6,"v2":0.6},{"yr":800,"yr2":812,"v":0.8,"v2":0.8},
{"yr":2008,"yr2":2020,"v":-0.8,"v2":-0.8},{"yr":2008,"yr2":2020,"v":-0.6,"v2":-0.6},{"yr":2008,"yr2":2020,"v":-0.4,"v2":-0.4},{"yr":2008,"yr2":2020,"v":-0.2,"v2":-0.2},{"yr":2008,"yr2":2020,"v":0,"v2":0},{"yr":2008,"yr2":2020,"v":0.2,"v2":0.2},{"yr":2008,"yr2":2020,"v":0.4,"v2":0.4},{"yr":2008,"yr2":2020,"v":0.6,"v2":0.6},{"yr":2008,"yr2":2020,"v":0.8,"v2":0.8}
]},
"mark": {"type": "rule", "color": "#444444", "strokeWidth": 1},
"encoding": {"x2": {"field": "yr2"}, "y2": {"field": "v2"}}}
]
},
{
"encoding": {
"x": {"field": "cx", "type": "quantitative", "scale": {"domain": [0, 976], "nice": false, "zero": false}, "axis": null},
"y": {"field": "row", "type": "quantitative", "scale": {"domain": [-26.853, 11.681], "nice": false, "zero": false, "reverse": true}, "axis": null}
},
"layer": [
{"data": {"values": [{"cx": 7, "cx2": 985, "row": -26.566, "row2": 9.168}]},
"mark": {"type": "rect", "fill": "#ffffff", "fillOpacity": 0, "stroke": "#6b8fc9", "strokeWidth": 1.5},
"encoding": {"x2": {"field": "cx2"}, "y2": {"field": "row2"}}},
{"data": {"values": [{"cx": 7, "cx2": 976, "row": 9.168, "row2": 11.681}]},
"mark": {"type": "rect", "fill": "#5472e8"},
"encoding": {"x2": {"field": "cx2"}, "y2": {"field": "row2"}}},
{"data": {"values": [
{"row":1,"cx":77,"t":"A comparison of solar activity and northern hemisphere climate from AD 800 to AD 2016. Top: Sunspot number, from direct telescopic","c":"#1a1a1a"},
{"row":2,"cx":30,"t":"observations (black;","c":"#1a1a1a"},
{"row":2,"cx":170,"t":"Lockwood et al., 2014","c":"#3a3ab4"},
{"row":2,"cx":323,"t":") and reconstructed on the basis of 14C concentrations in tree trunks (red, with pink 1-sigma","c":"#1a1a1a"},
{"row":3,"cx":30,"t":"uncertainty band;","c":"#1a1a1a"},
{"row":3,"cx":151,"t":"Usoskin et al., 2014","c":"#3a3ab4"},
{"row":3,"cx":297,"t":"). Taking a threshold smoothed sunspot number of 20 (dashed black line), the MM spans 1637–1719.","c":"#1a1a1a"},
{"row":4,"cx":30,"t":"Bottom: Northern hemisphere temperature anomaly, ΔT, (relative to the 1961–1990 mean) for paleoclimate reconstructions, as presented in the","c":"#1a1a1a"},
{"row":5,"cx":30,"t":"IPCC fifth assessment report (","c":"#1a1a1a"},
{"row":5,"cx":230,"t":"Masson-Delmotte et al., 2013","c":"#3a3ab4"},
{"row":5,"cx":423,"t":"). Colours, from white through red, show the probability density function (PDF),","c":"#1a1a1a"},
{"row":6,"cx":30,"t":"while the white line shows the PDF maximum value (or mode). The blue line shows ΔT from the instrumental record (HadCRUT4;","c":"#1a1a1a"},
{"row":6,"cx":879,"t":"Morice et al.,","c":"#3a3ab4"},
{"row":7,"cx":30,"t":"2012","c":"#3a3ab4"},
{"row":7,"cx":62,"t":"). All data have been smoothed using an 11 year running mean. Taking thresholds of ΔT = −0.25 K, −0.37 K and −0.55 K (dashed grey","c":"#1a1a1a"},
{"row":8,"cx":30,"t":"lines) defines LIAs, LIA1, LIA2 and LIA3, respectively.","c":"#1a1a1a"}
]},
"mark": {"type": "text", "font": "Liberation Serif", "fontSize": 16, "align": "left", "baseline": "middle"},
"encoding": {"text": {"field": "t"}, "color": {"field": "c", "type": "nominal", "scale": null}}},
{"data": {"values": [{"row": 1, "cx": 30, "t": "Fig. 1."}]},
"mark": {"type": "text", "font": "Liberation Serif", "fontSize": 16, "fontWeight": "bold", "align": "left", "baseline": "middle", "color": "#1a1a1a"},
"encoding": {"text": {"field": "t"}}},
{"data": {"values": [{"row": 10.37, "cx": 83, "t": "Fig. 5 - confronto attività solare e la temperatura nell’emisfero nord dall’anno 800 al 2016"}]},
"mark": {"type": "text", "font": "DejaVu Sans Condensed, Liberation Sans Narrow, sans-serif", "fontSize": 19.5, "align": "left", "baseline": "middle", "color": "#ffffff"},
"encoding": {"text": {"field": "t"}}},
{"data": {"values": [{"row": 9.9, "cx": 876, "t": "[da 5]"}]},
"mark": {"type": "text", "font": "DejaVu Sans Condensed, Liberation Sans Narrow, sans-serif", "fontSize": 13.5, "align": "left", "baseline": "middle", "color": "#ffffff"},
"encoding": {"text": {"field": "t"}}}
]
}
],
"resolve": {"scale": {"x": "independent", "y": "independent", "color": "independent"}, "axis": {"x": "independent", "y": "independent"}}
}
